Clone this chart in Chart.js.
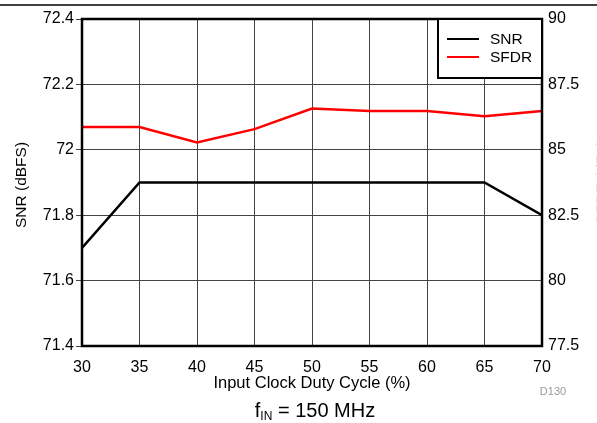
<!DOCTYPE html>
<html>
<head>
<meta charset="utf-8">
<script src="https://cdn.jsdelivr.net/npm/chart.js@4"></script>
<style>
html,body{margin:0;padding:0;background:#fff;}
#wrap{width:597px;height:423px;position:relative;}
</style>
</head>
<body>
<div id="wrap"><canvas id="c" width="597" height="423"></canvas></div>
<script>
const dutyCycle = [30, 35, 40, 45, 50, 55, 60, 65, 70];
const snrValues = [71.7, 71.9, 71.9, 71.9, 71.9, 71.9, 71.9, 71.9, 71.8];
const sfdrValues = [85.87, 85.87, 85.28, 85.79, 86.58, 86.48, 86.48, 86.28, 86.48];
const seriesLabels = ['SNR', 'SFDR'];
const xTitle = 'Input Clock Duty Cycle (%)';
const yTitle = 'SNR (dBFS)';
const y2Title = 'SFDR (dBc)';
const noteText = 'D130';

const FONT = '"Liberation Sans", Arial, sans-serif';

const decor = {
  id: 'decor',
  afterDraw(chart) {
    const ctx = chart.ctx;
    const a = chart.chartArea;
    ctx.save();
    // top rule
    ctx.strokeStyle = '#000';
    ctx.lineWidth = 1.5;
    ctx.beginPath(); ctx.moveTo(0, 5); ctx.lineTo(597, 5); ctx.stroke();
    // border
    ctx.lineWidth = 2.5;
    ctx.strokeRect(a.left, a.top, a.right - a.left, a.bottom - a.top);
    // legend
    const lx = 438, ly = a.top, lw = a.right - lx, lh = 59;
    ctx.fillStyle = '#fff';
    ctx.fillRect(lx, ly, lw, lh);
    ctx.lineWidth = 2;
    ctx.strokeRect(lx, ly, lw, lh);
    const ds = chart.data.datasets;
    ctx.font = '15.5px ' + FONT;
    ctx.textBaseline = 'middle';
    ctx.textAlign = 'left';
    ds.forEach((d, i) => {
      const y = ly + 20 + i * 18;
      ctx.strokeStyle = d.borderColor;
      ctx.lineWidth = 2;
      ctx.beginPath(); ctx.moveTo(447, y); ctx.lineTo(479, y); ctx.stroke();
      ctx.fillStyle = '#000';
      ctx.fillText(d.label, 490, y + 1);
    });
    // axis titles
    ctx.fillStyle = '#000';
    ctx.font = '16.5px ' + FONT;
    ctx.textAlign = 'center';
    ctx.fillText(xTitle, 312, 383);
    ctx.font = '15.5px ' + FONT;
    ctx.save();
    ctx.translate(22, 185);
    ctx.rotate(-Math.PI / 2);
    ctx.fillText(yTitle, 0, 0);
    ctx.restore();
    // faint right title (cut off)
    ctx.save();
    ctx.fillStyle = '#e4e4e4';
    ctx.translate(602, (a.top + a.bottom) / 2);
    ctx.rotate(-Math.PI / 2);
    ctx.fillText(y2Title, 0, 0);
    ctx.restore();
    // note
    ctx.fillStyle = '#999';
    ctx.font = '11px ' + FONT;
    ctx.fillText(noteText, 553, 392);
    // bottom caption f_IN = 150 MHz
    ctx.fillStyle = '#000';
    const big = '20px ' + FONT, small = '12px ' + FONT;
    ctx.font = big; const wf = ctx.measureText('f').width;
    ctx.font = small; const wi = ctx.measureText('IN').width;
    ctx.font = big; const wr = ctx.measureText(' = 150 MHz').width;
    let x = 315 - (wf + wi + wr) / 2;
    ctx.textAlign = 'left';
    ctx.font = big; ctx.fillText('f', x, 411); x += wf;
    ctx.font = small; ctx.fillText('IN', x, 417); x += wi;
    ctx.font = big; ctx.fillText(' = 150 MHz', x, 411);
    ctx.restore();
  }
};

new Chart(document.getElementById('c'), {
  type: 'line',
  data: {
    datasets: [
      { label: seriesLabels[0], data: dutyCycle.map((x, i) => ({ x, y: snrValues[i] })), borderColor: '#000', borderWidth: 2.5, pointRadius: 0, yAxisID: 'y', tension: 0 },
      { label: seriesLabels[1], data: dutyCycle.map((x, i) => ({ x, y: sfdrValues[i] })), borderColor: '#ff0000', borderWidth: 2.5, pointRadius: 0, yAxisID: 'y2', tension: 0 }
    ]
  },
  options: {
    responsive: false,
    animation: false,
    devicePixelRatio: 1,
    layout: { padding: { top: 19, left: 0, right: 0, bottom: 0 } },
    plugins: { legend: { display: false }, tooltip: { enabled: false } },
    scales: {
      x: {
        type: 'linear', min: 30, max: 70,
        ticks: { stepSize: 5, color: '#000', font: { family: FONT, size: 16 }, padding: 12, maxRotation: 0 },
        grid: { color: '#444', lineWidth: 1, drawTicks: false },
        border: { display: false },
        afterFit(s) { s.height = 77; }
      },
      y: {
        position: 'left', min: 71.4, max: 72.4,
        ticks: { stepSize: 0.2, color: '#000', font: { family: FONT, size: 16 }, padding: 2,
          callback: v => String(Math.round(v * 10) / 10) },
        grid: { color: '#444', lineWidth: 1, tickLength: 6 },
        border: { display: false },
        afterFit(s) { s.width = 82; }
      },
      y2: {
        position: 'right', min: 77.5, max: 90,
        ticks: { stepSize: 2.5, color: '#000', font: { family: FONT, size: 16 }, padding: 6,
          callback: v => String(Math.round(v * 10) / 10) },
        grid: { drawOnChartArea: false, drawTicks: false },
        border: { display: false },
        afterFit(s) { s.width = 55; }
      }
    }
  },
  plugins: [decor]
});
</script>
</body>
</html>
